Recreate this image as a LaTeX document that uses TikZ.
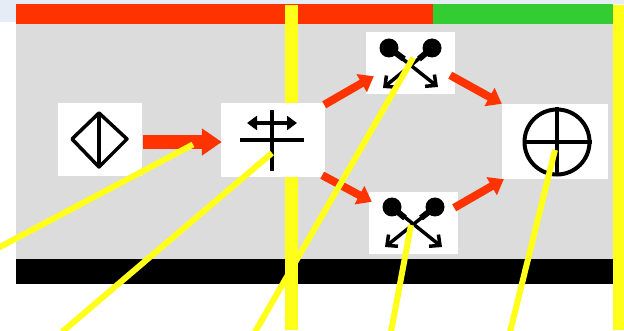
\documentclass[tikz,border=0pt]{standalone}
\usepackage{tikz}
\usetikzlibrary{positioning,calc,arrows.meta}
\definecolor{barred}{HTML}{FF3300}
\definecolor{bargreen}{HTML}{33CC33}
\definecolor{bargrey}{HTML}{DCDCDC}
\definecolor{pageblue}{HTML}{E6ECF5}
\definecolor{markyellow}{HTML}{FFFF19}
\tikzset{
	symbolbox/.style={draw=none, fill=white, inner sep=0pt},
	flowsmall/.style={draw=barred, line width=8pt, -{Triangle[length=14pt, width=20pt]}},
	flowbig/.style={draw=barred, line width=14pt, -{Triangle[length=20pt, width=26pt]}},
	pointer/.style={draw=markyellow, line width=6pt},
	symbolline/.style={draw=black, line width=3.5pt},
	crossarm/.style={draw=black, line width=3.5pt, -{Straight Barb[length=8pt, width=15pt, line width=3.5pt]}},
	crosstail/.style={draw=black, line width=6pt},
}
\begin{document}
\begin{tikzpicture}[x=1pt, y=-1pt]
	\useasboundingbox (0,0) rectangle (624,331);
	% page and bars
	\fill[pageblue] (0,0) rectangle (624,4);
	\fill[pageblue] (0,4) rectangle (16,22);
	\fill[bargrey] (16,24) rectangle (613,259);
	\fill[barred] (16,4) rectangle (433,24);
	\fill[bargreen] (433,4) rectangle (613,24);
	\fill[black] (16,259) rectangle (613,284);
	\fill[markyellow] (285,5) rectangle (298,330);
	\fill[markyellow] (613,5) rectangle (624,330);
	% boxes
	\node [symbolbox, minimum width=84pt, minimum height=73pt] (diamondbox) at (100,139.5) {};
	\node [symbolbox, minimum width=104pt, minimum height=74pt] (crossbox) at (273,140) {};
	\node [symbolbox, minimum width=89pt, minimum height=62pt] (splitup) at (410.5,63) {};
	\node [symbolbox, minimum width=89pt, minimum height=62pt] (splitdown) at (413.5,223) {};
	\node [symbolbox, minimum width=106pt, minimum height=75pt] (wheelbox) at (555,141.5) {};
	% flow arrows
	\path [flowbig] ([shift={(1,2.5)}]diamondbox.east) -- ([shift={(1,2)}]crossbox.west);
	\path [flowsmall] ([shift={(-1,2)}]crossbox.north east) -- ([shift={(8,-18)}]splitup.south west);
	\path [flowsmall] ([shift={(-3,-2)}]crossbox.south east) -- ([shift={(3,10)}]splitdown.north west);
	\path [flowsmall] ([shift={(-5,-19)}]splitup.south east) -- ([shift={(0,0)}]wheelbox.north west);
	\path [flowsmall] ([shift={(-4,16)}]splitdown.north east) -- ([shift={(2,0)}]wheelbox.south west);
	% symbols
	\draw [symbolline, line join=round] (72,139) -- (99,113) -- (127,139) -- (99,167) -- cycle;
	\draw [symbolline] (99,113) -- (99,167);
	\draw [symbolline, line width=4pt] (272,110) -- (272,171);
	\draw [symbolline, line width=4pt] (240,140) -- (304,140);
	\draw [symbolline, {Triangle[length=10pt, width=14pt]}-{Triangle[length=10pt, width=14pt]}] (247,123) -- (297,123);
	\fill (389,48) circle (9.5);
	\fill (432,48) circle (9.5);
	\draw [crosstail] (389,48) -- (404,59);
	\draw [crosstail] (432,48) -- (419,59);
	\draw [crossarm] (389,48) -- (438,87);
	\draw [crossarm] (432,48) -- (383,88);
	\fill (392,207) circle (9.5);
	\fill (435,207) circle (9.5);
	\draw [crosstail] (392,207) -- (405,218);
	\draw [crosstail] (435,207) -- (421,218);
	\draw [crossarm] (392,207) -- (442,247);
	\draw [crossarm] (435,207) -- (385,247);
	\node [draw, circle, line width=4pt, minimum size=65pt, inner sep=0pt] (wheel) at (557,142) {};
	\draw [symbolline, line width=4pt] (wheel.north) -- (wheel.south);
	\draw [symbolline] (wheel.west) -- (wheel.east);
	% pointers
	\coordinate (ptrdiamond) at (193,144.5);
	\coordinate (ptrcross) at (272,153);
	\coordinate (ptrup) at (413,58);
	\coordinate (ptrdown) at (411,225);
	\coordinate (ptrwheel) at (555,150);
	\coordinate (enddiamond) at (-2,248);
	\coordinate (endcross) at (62,332);
	\coordinate (endup) at (255,332);
	\coordinate (enddown) at (391,332);
	\coordinate (endwheel) at (510,332);
	\path [pointer] (enddiamond) -- (ptrdiamond);
	\path [pointer] (endcross) -- (ptrcross);
	\path [pointer] (endup) -- (ptrup);
	\path [pointer] (enddown) -- (ptrdown);
	\path [pointer] (endwheel) -- (ptrwheel);
\end{tikzpicture}
\end{document}
